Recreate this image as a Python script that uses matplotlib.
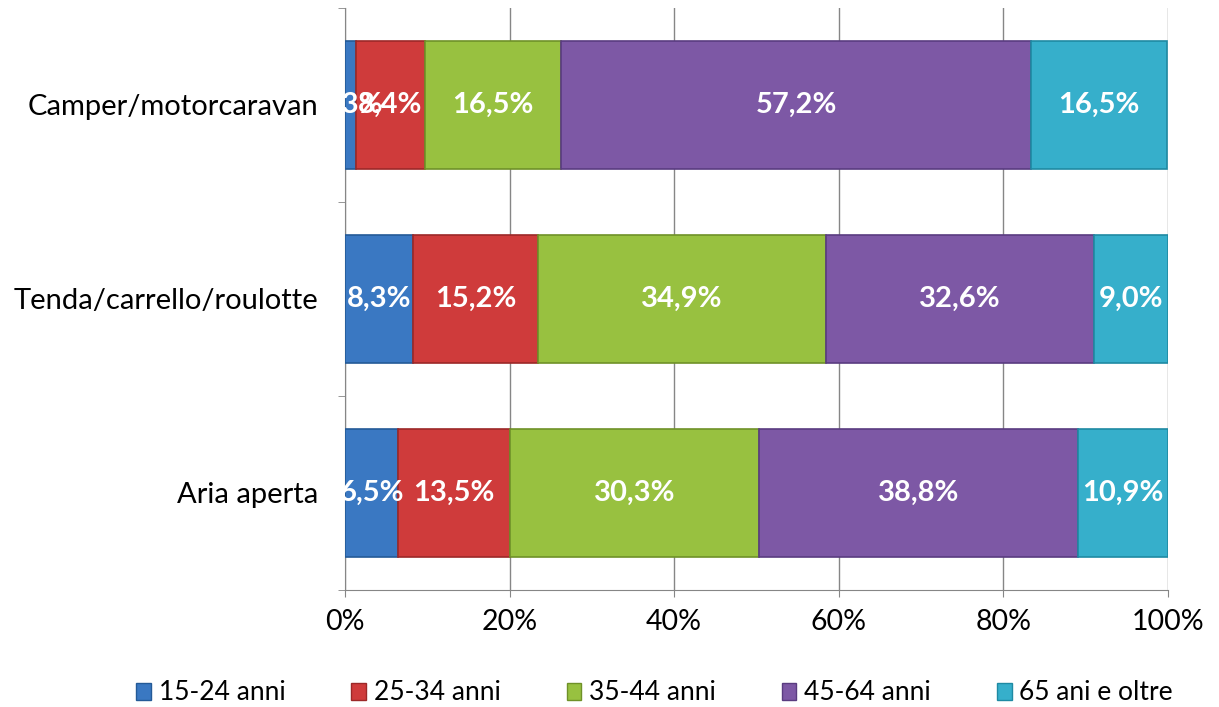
import matplotlib
matplotlib.use("Agg")
import matplotlib.pyplot as plt
import numpy as np

categories = ["Aria aperta", "Tenda/carrello/roulotte", "Camper/motorcaravan"]
series_names = ["15-24 anni", "25-34 anni", "35-44 anni", "45-64 anni", "65 ani e oltre"]
values = {
    "15-24 anni": [6.5, 8.3, 1.3],
    "25-34 anni": [13.5, 15.2, 8.4],
    "35-44 anni": [30.3, 34.9, 16.5],
    "45-64 anni": [38.8, 32.6, 57.2],
    "65 ani e oltre": [10.9, 9.0, 16.5],
}
colors = ["#3a78c2", "#cf3b3b", "#98c140", "#7d58a5", "#36afcb"]
edges = ["#245a97", "#9c2828", "#6f9128", "#5a3c80", "#1f8aa3"]
xticks = [0, 20, 40, 60, 80, 100]
xticklabels = ["0%", "20%", "40%", "60%", "80%", "100%"]

plt.rcParams["font.family"] = ["Lato", "DejaVu Sans"]

fig = plt.figure(figsize=(12.19, 7.07), dpi=100)
ax = fig.add_axes([345/1219, 1-590/707, (1168-345)/1219, (590-8)/707])

y = np.arange(len(categories))
left = np.zeros(len(categories))
for name, c, ec in zip(series_names, colors, edges):
    v = np.array(values[name])
    ax.barh(y, v, left=left, height=0.655, color=c, edgecolor=ec, linewidth=1.2, label=name, zorder=3)
    for yi, (l, w) in enumerate(zip(left, v)):
        ax.text(l + w/2, yi, f"{w:.1f}%".replace(".", ","), ha="center", va="center",
                color="white", fontsize=21, fontweight="bold", zorder=5, clip_on=False)
    left += v

ax.set_xlim(0, 100)
ax.set_ylim(-0.5, 2.5)
ax.set_xticks(xticks)
ax.set_xticklabels(xticklabels, fontsize=20.5)
ax.set_yticks(y)
ax.set_yticklabels(categories, fontsize=21)
ax.set_yticks([-0.5, 0.5, 1.5, 2.5], minor=True)
ax.tick_params(axis="y", which="major", length=0, pad=19)
ax.tick_params(axis="y", which="minor", length=5, color="#868686")
ax.tick_params(axis="x", length=5, color="#868686", pad=9)
ax.grid(axis="x", color="#868686", linewidth=1, zorder=0)
for s in ["top", "right"]:
    ax.spines[s].set_visible(False)
ax.spines["left"].set_color("#868686")
ax.spines["bottom"].set_color("#868686")

handles = [plt.Rectangle((0, 0), 1, 1, color=c, ec=ec) for c, ec in zip(colors, edges)]
fig.legend(handles, series_names, loc="center", bbox_to_anchor=(0.537, 1-693/707), ncol=5,
           frameon=False, fontsize=19, handlelength=0.55, handleheight=0.6, handletextpad=0.3,
           columnspacing=2.5)

fig.savefig("out.png", dpi=100)
